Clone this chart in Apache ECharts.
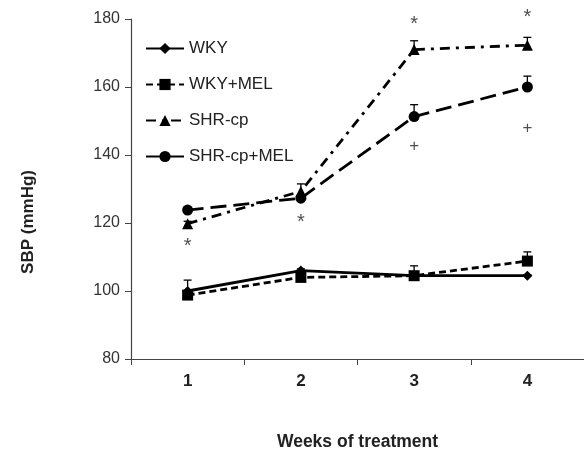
<!DOCTYPE html>
<html><head><meta charset="utf-8">
<script src="https://cdn.jsdelivr.net/npm/echarts@6/dist/echarts.min.js"></script>
<style>html,body{margin:0;padding:0;background:#fff}#c{width:584px;height:450px}</style>
</head><body><div id="c"></div>
<script>
const weeks = ['1','2','3','4'];
const wky = [100, 106, 104.5, 104.5];
const wkyErr = [103.2, 106.5, 105, 104.8];
const wkyMel = [98.8, 104, 104.5, 108.8];
const wkyMelErr = [99.5, 104.5, 107.4, 111.5];
const shr = [119.8, 129.3, 171, 172.3];
const shrErr = [120.5, 131.5, 173.6, 174.6];
const shrMel = [123.8, 127.3, 151.3, 160];
const shrMelErr = [124.3, 128, 154.8, 163.2];
const starMarks = [[0, 114], [1, 121], [2, 179.4], [3, 181.2]];
const plusMarks = [[2, 142.7], [3, 147.8]];
const yTicks = {min: 80, max: 180, interval: 20};

const chart = echarts.init(document.getElementById('c'), null, {renderer: 'canvas'});
const FONT = '"Liberation Sans", Arial, sans-serif';

function errSeries(vals, tops) {
  return {
    type: 'custom', silent: true, z: 1, clip: false,
    data: vals.map((v, i) => [i, v, tops[i]]),
    renderItem: function (params, api) {
      const p0 = api.coord([api.value(0), api.value(1)]);
      const p1 = api.coord([api.value(0), api.value(2)]);
      return {type: 'group', children: [
        {type: 'line', shape: {x1: p0[0], y1: p0[1], x2: p1[0], y2: p1[1]}, style: {stroke: '#000', lineWidth: 1.3}},
        {type: 'line', shape: {x1: p1[0] - 4, y1: p1[1], x2: p1[0] + 4, y2: p1[1]}, style: {stroke: '#000', lineWidth: 1.3}}
      ]};
    }
  };
}
function lineSeries(name, data, symbol, size, dash) {
  return {
    name: name, type: 'line', data: data, symbol: symbol, symbolSize: size, z: 3,
    lineStyle: {color: '#000', width: 2.8, type: dash},
    itemStyle: {color: '#000'}
  };
}
function markSeries(data, ch, size, dy) {
  return {
    type: 'scatter', data: data, symbolSize: 0, silent: true, clip: false,
    label: {show: true, position: 'inside', offset: [0, dy], formatter: ch, color: '#222', fontSize: size, fontFamily: FONT}
  };
}

chart.setOption({
  animation: false,
  grid: {left: 131, right: 0, top: 19, bottom: 91, containLabel: false, outerBoundsMode: 'none'},
  graphic: [{
    type: 'text', left: 20, top: 170, rotation: Math.PI / 2,
    style: {text: 'SBP (mmHg)', font: 'bold 17px "Liberation Sans", Arial, sans-serif', fill: '#222'}
  }],
  legend: {
    orient: 'vertical', left: 140, top: 35, itemGap: 19, itemWidth: 38, itemHeight: 14,
    textStyle: {fontFamily: FONT, fontSize: 17, color: '#222'},
    data: ['WKY', 'WKY+MEL', 'SHR-cp', 'SHR-cp+MEL']
  },
  xAxis: {
    type: 'category', data: weeks, boundaryGap: true,
    name: 'Weeks of treatment', nameLocation: 'middle', nameGap: 74,
    nameTextStyle: {fontFamily: FONT, fontSize: 17.5, fontWeight: 'bold', color: '#222'},
    axisLine: {lineStyle: {color: '#444', width: 1.2}},
    axisTick: {show: true, length: 6, lineStyle: {color: '#444'}},
    axisLabel: {fontFamily: FONT, fontSize: 17, fontWeight: 'bold', color: '#222', margin: 14}
  },
  yAxis: {
    type: 'value', min: yTicks.min, max: yTicks.max, interval: yTicks.interval,
    axisLine: {show: true, lineStyle: {color: '#444', width: 1.2}},
    axisTick: {show: true, length: 6, lineStyle: {color: '#444'}},
    splitLine: {show: false},
    axisLabel: {fontFamily: FONT, fontSize: 16, color: '#333', margin: 11}
  },
  series: [
    errSeries(wky, wkyErr),
    errSeries(wkyMel, wkyMelErr),
    errSeries(shr, shrErr),
    errSeries(shrMel, shrMelErr),
    lineSeries('WKY', wky, 'diamond', 10, 'solid'),
    lineSeries('WKY+MEL', wkyMel, 'rect', 11, [7, 4]),
    lineSeries('SHR-cp', shr, 'triangle', 11, [10, 6, 3, 6]),
    lineSeries('SHR-cp+MEL', shrMel, 'circle', 11, [16, 7]),
    markSeries(starMarks, '*', 20, 3),
    markSeries(plusMarks, '+', 17, 0)
  ]
});
</script></body></html>
